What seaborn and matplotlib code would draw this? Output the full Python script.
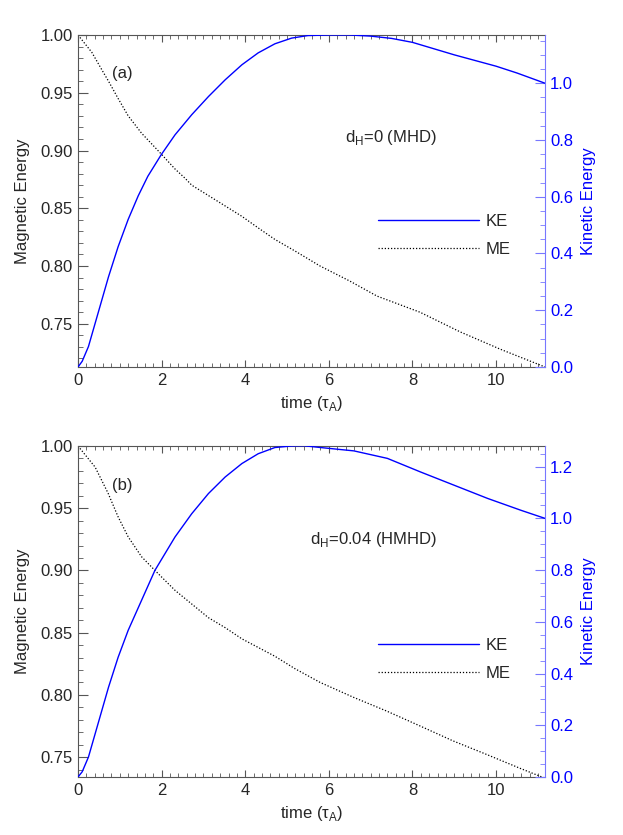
import matplotlib
matplotlib.use("Agg")
import matplotlib.pyplot as plt
import seaborn as sns
from matplotlib.ticker import MultipleLocator, FormatStrFormatter

# panel (a): d_H = 0 (MHD)
t_ke_a = [0, 0.1, 0.25, 0.41, 0.57, 0.73, 0.96, 1.2, 1.44, 1.67, 1.99,
          2.32, 2.72, 3.12, 3.52, 3.92, 4.31, 4.71, 5.11, 5.5, 6.0, 6.5,
          7.0, 7.5, 8.0, 8.5, 9.0, 9.5, 10.0, 10.5, 11.17]
ke_a = [0, 0.02, 0.072, 0.154, 0.236, 0.318, 0.424, 0.520, 0.603, 0.672,
        0.748, 0.818, 0.889, 0.953, 1.012, 1.065, 1.107, 1.139, 1.159,
        1.168, 1.170, 1.170, 1.166, 1.158, 1.144, 1.122, 1.100, 1.080,
        1.060, 1.036, 1.0]
t_me_a = [0, 0.33, 0.6, 0.73, 0.96, 1.2, 1.52, 1.99, 2.32, 2.56,
          2.72, 3.12, 3.52, 3.92, 4.31, 4.71, 5.19, 5.79, 6.5, 7.15, 8.18,
          9.14, 10.1, 11.17]
me_a = [1.0, 0.985, 0.968, 0.960, 0.945, 0.930, 0.915, 0.897,
        0.884, 0.876, 0.870, 0.861, 0.852, 0.843, 0.833, 0.823, 0.813,
        0.800, 0.787, 0.774, 0.760, 0.743, 0.728, 0.7126]

# panel (b): d_H = 0.04 (HMHD)
t_ke_b = [0, 0.1, 0.25, 0.41, 0.57, 0.73, 0.96, 1.2, 1.52, 1.84, 2.32,
          2.72, 3.12, 3.52, 3.92, 4.31, 4.71, 5.11, 5.4, 5.8, 6.6, 7.4,
          8.2, 9.0, 9.8, 10.6, 11.17]
ke_b = [0, 0.02, 0.077, 0.167, 0.257, 0.347, 0.463, 0.567, 0.683, 0.799,
        0.928, 1.018, 1.096, 1.160, 1.212, 1.250, 1.274, 1.280, 1.281,
        1.274, 1.261, 1.232, 1.179, 1.128, 1.077, 1.031, 1.0]
t_me_b = [0, 0.41, 0.72, 0.96, 1.2, 1.52, 1.84, 2.32, 2.72, 3.12,
          3.52, 3.92, 4.71, 5.19, 5.79, 6.59, 7.38, 8.18, 8.97, 9.78,
          10.57, 11.17]
me_b = [1.0, 0.983, 0.962, 0.943, 0.927, 0.911, 0.900, 0.884,
        0.873, 0.862, 0.854, 0.845, 0.831, 0.821, 0.810, 0.798, 0.787,
        0.775, 0.763, 0.752, 0.741, 0.733]

sns.set_style("ticks")
plt.rcParams['font.family'] = ['Liberation Sans', 'DejaVu Sans']
plt.rcParams['mathtext.fontset'] = 'custom'
plt.rcParams['mathtext.rm'] = 'Liberation Sans'
plt.rcParams['font.size'] = 12

AX_COL = '#555555'
KE_AX_COL = '#7777ff'


def panel(fig, rect, t_ke, ke, t_me, me, me_lim, ke_lim, tag, tag_y,
          dh_text, dh_pos, leg_top):
    ax = fig.add_axes(rect)
    ax2 = ax.twinx()

    sns.lineplot(x=t_me, y=me, ax=ax, color='black', lw=0.9,
                 linestyle=(0, (1, 1.5)), legend=False)
    sns.lineplot(x=t_ke, y=ke, ax=ax2, color='blue', lw=1.0, legend=False)

    ax.set_xlim(0, 11.17)
    ax.set_ylim(*me_lim)
    ax2.set_ylim(*ke_lim)

    ax.xaxis.set_major_locator(MultipleLocator(2))
    ax.xaxis.set_minor_locator(MultipleLocator(0.2))
    ax.yaxis.set_major_locator(MultipleLocator(0.05))
    ax.yaxis.set_minor_locator(MultipleLocator(0.01))
    ax.yaxis.set_major_formatter(FormatStrFormatter('%.2f'))
    ax2.yaxis.set_major_locator(MultipleLocator(0.2))
    ax2.yaxis.set_minor_locator(MultipleLocator(0.05))
    ax2.yaxis.set_major_formatter(FormatStrFormatter('%.1f'))

    ax.tick_params(axis='x', which='both', direction='in', top=True,
                   color=AX_COL, labelsize=12, pad=4)
    ax.tick_params(axis='x', which='major', length=5, width=0.8)
    ax.tick_params(axis='x', which='minor', length=3, width=0.6)
    ax.tick_params(axis='y', which='both', direction='in', left=True,
                   right=False, color=AX_COL, labelsize=12, pad=3.6)
    ax.tick_params(axis='y', which='major', length=7, width=0.8)
    ax.tick_params(axis='y', which='minor', length=3.6, width=0.6)
    ax2.tick_params(axis='y', which='both', direction='in',
                    color=KE_AX_COL, labelcolor='blue', labelsize=12, pad=3.6)
    ax2.tick_params(axis='y', which='major', length=7, width=0.8)
    ax2.tick_params(axis='y', which='minor', length=3.6, width=0.6)

    for s in ['left', 'top', 'bottom']:
        ax.spines[s].set_color(AX_COL)
        ax.spines[s].set_linewidth(0.8)
        ax2.spines[s].set_visible(False)
    ax.spines['right'].set_visible(False)
    ax2.spines['right'].set_color(KE_AX_COL)
    ax2.spines['right'].set_linewidth(0.8)
    ax2.spines['right'].set_visible(True)

    ax.set_xlabel(r'time (τ$_\mathregular{A}$)', fontsize=12, labelpad=4.5)
    ax.set_ylabel('Magnetic Energy', fontsize=12, labelpad=8)
    ax2.set_ylabel('Kinetic Energy', fontsize=12, color='blue', labelpad=5.5)

    ax.text(0.073, tag_y, tag, transform=ax.transAxes, fontsize=12,
            va='center', ha='left')
    ax.text(dh_pos[0], dh_pos[1], dh_text, transform=ax.transAxes,
            fontsize=12, va='center', ha='left')

    ke_line = ax2.get_lines()[0]
    me_line = ax.get_lines()[0]
    ax2.legend([ke_line, me_line], ['KE', 'ME'], loc='upper left',
               bbox_to_anchor=(378 / 623, 1 - leg_top / 835),
               bbox_transform=fig.transFigure, frameon=False,
               handlelength=6.05, handletextpad=0.4, labelspacing=0.76,
               borderpad=0, borderaxespad=0, fontsize=12)


fig = plt.figure(figsize=(6.23, 8.35), dpi=100)

panel(fig, [0.1252, 0.5605, 0.7496, 0.3976], t_ke_a, ke_a, t_me_a, me_a,
      (0.7126, 1.0), (0.0, 1.17), '(a)', 0.885,
      r'd$_\mathregular{H}$=0 (MHD)', (0.572, 0.69), 214)
panel(fig, [0.1252, 0.0695, 0.7496, 0.3964], t_ke_b, ke_b, t_me_b, me_b,
      (0.734, 1.0), (0.0, 1.28), '(b)', 0.882,
      r'd$_\mathregular{H}$=0.04 (HMHD)', (0.497, 0.716), 638)

fig.savefig('out.png', dpi=100)
